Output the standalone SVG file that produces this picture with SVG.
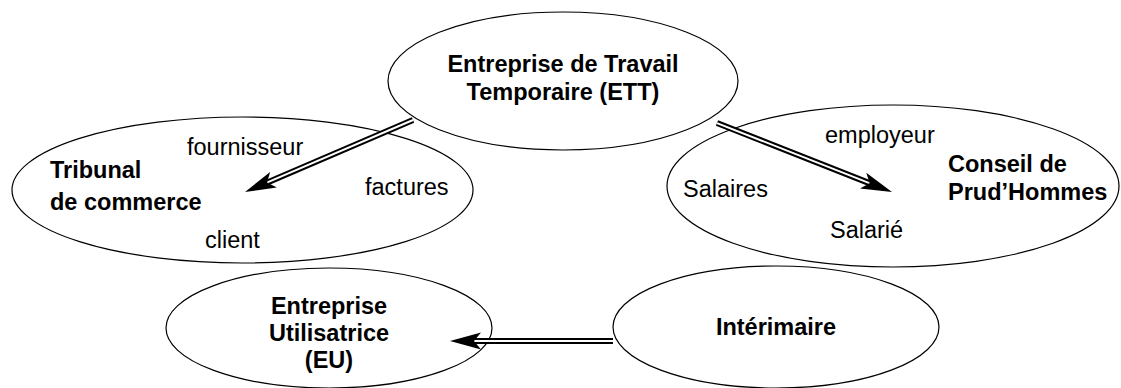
<svg xmlns="http://www.w3.org/2000/svg" width="1121" height="388" viewBox="0 0 1121 388">
  <style>
    .shape { fill: none; stroke: #000; stroke-width: 1.2; }
    .bold { font-family: "Liberation Sans", Arial, sans-serif; font-weight: bold; font-size: 23.5px; fill: #000; }
    .label { font-family: "Liberation Sans", Arial, sans-serif; font-size: 23.5px; fill: #000; }
    .mid { text-anchor: middle; }
    .rail { stroke: #000; stroke-width: 6; fill: none; }
    .gap { stroke: #fff; stroke-width: 2; fill: none; }
    .head { fill: #000; stroke: none; }
  </style>
  <defs>
    <!-- notched arrowhead, tip at the origin, pointing along +x -->
    <path id="arrowhead" class="head" d="M0,0 L-31,-8.5 L-24,0 L-31,8.5 Z"/>
  </defs>

  <rect width="1121" height="388" fill="#fff"/>

  <g id="node-ett">
    <ellipse class="shape" cx="563" cy="81" rx="175" ry="69"/>
    <text class="bold mid" x="563" y="72">Entreprise de Travail</text>
    <text class="bold mid" x="563" y="100">Temporaire (ETT)</text>
  </g>

  <g id="node-tribunal">
    <ellipse class="shape" cx="242.5" cy="190" rx="230.5" ry="73"/>
    <text class="bold" x="50" y="178">Tribunal</text>
    <text class="bold" x="50" y="210">de commerce</text>
    <text class="label" x="187" y="155">fournisseur</text>
    <text class="label" x="365" y="195">factures</text>
    <text class="label" x="205" y="248">client</text>
  </g>

  <g id="node-conseil">
    <ellipse class="shape" cx="893" cy="186" rx="226" ry="81"/>
    <text class="bold" x="948" y="172">Conseil de</text>
    <text class="bold" x="948" y="200">Prud’Hommes</text>
    <text class="label" x="825" y="143">employeur</text>
    <text class="label" x="683" y="197">Salaires</text>
    <text class="label" x="830" y="238">Salarié</text>
  </g>

  <g id="node-eu">
    <ellipse class="shape" cx="329" cy="328" rx="163" ry="60"/>
    <text class="bold mid" x="329" y="314">Entreprise</text>
    <text class="bold mid" x="329" y="341">Utilisatrice</text>
    <text class="bold mid" x="329" y="368">(EU)</text>
  </g>

  <g id="node-interimaire">
    <ellipse class="shape" cx="776" cy="327" rx="163" ry="61"/>
    <text class="bold mid" x="776" y="335">Intérimaire</text>
  </g>

  <g id="connectors">
    <!-- ETT to Tribunal de commerce -->
    <g transform="translate(245,192) rotate(156.8)">
      <line class="rail" x1="-182.8" y1="0" x2="-25" y2="0"/>
      <line class="gap" x1="-182.8" y1="0" x2="-25" y2="0"/>
      <use href="#arrowhead"/>
    </g>
    <!-- ETT to Conseil de Prud'Hommes -->
    <g transform="translate(892,192) rotate(21.5)">
      <line class="rail" x1="-188.1" y1="0" x2="-25" y2="0"/>
      <line class="gap" x1="-188.1" y1="0" x2="-25" y2="0"/>
      <use href="#arrowhead"/>
    </g>
    <!-- Intérimaire to Entreprise Utilisatrice -->
    <g transform="translate(450,341) rotate(180)">
      <line class="rail" x1="-163" y1="0" x2="-25" y2="0"/>
      <line class="gap" x1="-163" y1="0" x2="-25" y2="0"/>
      <use href="#arrowhead"/>
    </g>
  </g>
</svg>
